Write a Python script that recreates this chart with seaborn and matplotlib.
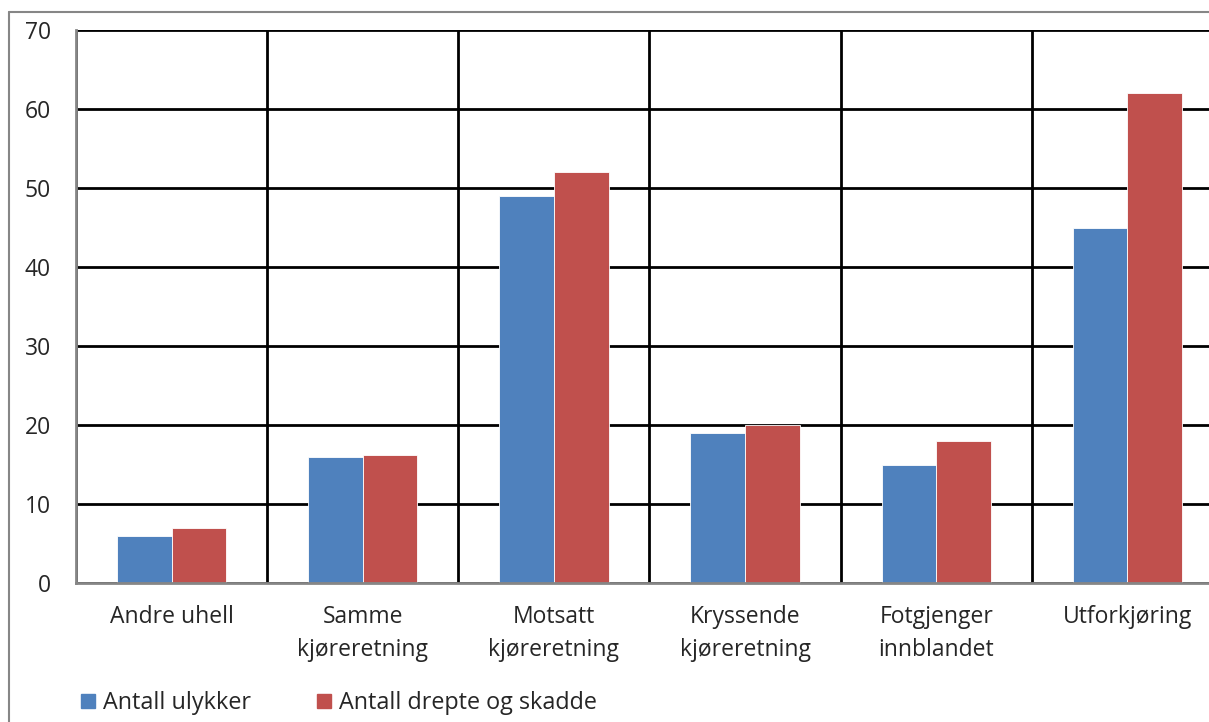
import matplotlib
matplotlib.use("Agg")
import matplotlib.pyplot as plt
import seaborn as sns
import pandas as pd
from matplotlib.lines import Line2D

categories = ["Andre uhell", "Samme\nkjøreretning", "Motsatt\nkjøreretning",
              "Kryssende\nkjøreretning", "Fotgjenger\ninnblandet", "Utforkjøring"]
series_names = ["Antall ulykker", "Antall drepte og skadde"]
ulykker = [6, 16, 49, 19, 15, 45]
drepte = [7, 16.2, 52, 20, 18, 62]
yticks = [0, 10, 20, 30, 40, 50, 60, 70]
colors = ["#4F81BD", "#C0504D"]

df = pd.DataFrame({
    "kategori": categories * 2,
    "serie": [series_names[0]] * len(categories) + [series_names[1]] * len(categories),
    "verdi": ulykker + drepte,
})

sns.set_style("white")
plt.rcParams['font.family'] = ['Open Sans', 'DejaVu Sans']

W, H = 1209, 722
fig = plt.figure(figsize=(W / 100, H / 100), dpi=100)
ax = fig.add_axes([76 / W, 1 - 583 / H, (1223 - 76) / W, (583 - 30) / H])

sns.barplot(data=df, x="kategori", y="verdi", hue="serie", order=categories,
            hue_order=series_names, palette=colors, saturation=1, width=0.572, gap=0,
            edgecolor="white", linewidth=0.6, legend=False, ax=ax, zorder=3)

ax.set_xlim(-0.5, len(categories) - 0.5)
ax.set_ylim(0, 70)
ax.set_yticks(yticks)
ax.set_yticklabels([str(t) for t in yticks], fontsize=16.5)
ax.set_xticks(range(len(categories)))
ax.set_xticklabels(categories, fontsize=16.5, linespacing=1.5)
ax.set_xlabel("")
ax.set_ylabel("")
ax.tick_params(axis="both", length=0)
ax.tick_params(axis="x", pad=16)
ax.tick_params(axis="y", pad=18)

ax.set_xticks([i - 0.5 for i in range(len(categories) + 1)], minor=True)
ax.grid(axis="y", which="major", color="black", linewidth=2, zorder=0)
ax.grid(axis="x", which="minor", color="black", linewidth=2, zorder=0)
ax.grid(axis="x", which="major", visible=False)
ax.set_axisbelow(True)

for s in ["top", "right"]:
    ax.spines[s].set_visible(False)
for s in ["left", "bottom"]:
    ax.spines[s].set_color("#868686")
    ax.spines[s].set_linewidth(2)
    ax.spines[s].set_zorder(4)

# outer chart frame (left and top edges visible)
fig.add_artist(Line2D([9 / W, 9 / W], [0, 1 - 12 / H], transform=fig.transFigure,
                      color="#868686", linewidth=1.5))
fig.add_artist(Line2D([9 / W, 1], [1 - 12 / H, 1 - 12 / H], transform=fig.transFigure,
                      color="#868686", linewidth=1.5))

handles = [Line2D([0], [0], marker="s", linestyle="none", markersize=9.5,
                  markerfacecolor=c, markeredgecolor=c) for c in colors]
fig.legend(handles, series_names, loc="center left", bbox_to_anchor=(67 / W, 1 - 703 / H),
           ncol=2, frameon=False, fontsize=16.8, handletextpad=0.15, columnspacing=2.6,
           handlelength=1.0, borderaxespad=0)

fig.savefig("out.png", dpi=100)
